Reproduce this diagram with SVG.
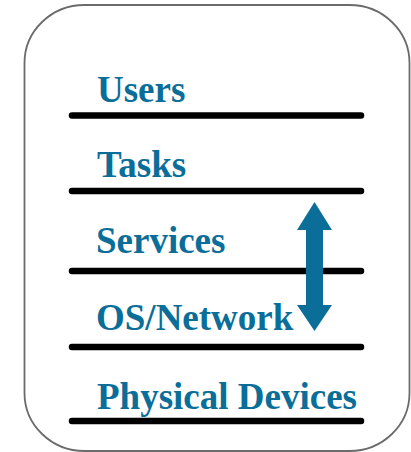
<svg xmlns="http://www.w3.org/2000/svg" width="411" height="452" viewBox="0 0 411 452">
  <style>
    .frame { fill: #ffffff; stroke: #6b6b6b; stroke-width: 1.8; }
    .rule { stroke: #000000; stroke-width: 6.5; stroke-linecap: round; }
    .label { font-family: "Liberation Serif", "Times New Roman", serif; font-weight: bold; font-size: 37px; fill: #0b6e99; }
    .arrow { fill: #0b6e99; }
  </style>
  <rect width="411" height="452" fill="#ffffff"/>
  <rect class="frame" x="24.5" y="5" width="385" height="446" rx="60" ry="58"/>

  <g id="connectors">
    <line class="rule" x1="72" y1="115.5" x2="361" y2="115.5"/>
    <line class="rule" x1="72" y1="191" x2="361" y2="191"/>
    <line class="rule" x1="72" y1="271" x2="361" y2="271"/>
    <line class="rule" x1="72" y1="347" x2="361" y2="347"/>
    <line class="rule" x1="72" y1="421" x2="361" y2="421"/>
    <!-- two-headed vertical arrow -->
    <polygon class="arrow" points="314.5,202 332,230 323,230 323,305 332,305 314.5,331 297,305 306,305 306,230 297,230"/>
  </g>

  <g id="users"><text class="label" x="97" y="102">Users</text></g>
  <g id="tasks"><text class="label" x="97" y="177">Tasks</text></g>
  <g id="services"><text class="label" x="96" y="253">Services</text></g>
  <g id="os-network"><text class="label" x="96" y="330">OS/Network</text></g>
  <g id="physical-devices"><text class="label" x="97" y="409">Physical Devices</text></g>
</svg>
